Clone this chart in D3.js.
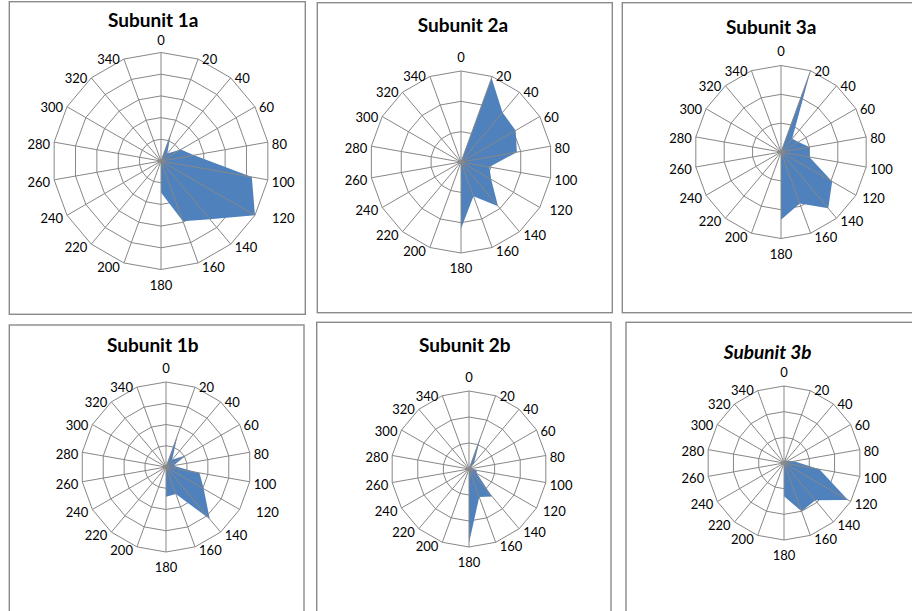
<!DOCTYPE html>
<html><head><meta charset="utf-8">
<script src="https://cdn.jsdelivr.net/npm/d3@7"></script>
<style>body{margin:0;background:#fff;overflow:hidden} svg{display:block}</style>
</head><body>
<svg id="c" width="912" height="611"></svg>
<script>
// ---- data ----
const directions = [0,20,40,60,80,100,120,140,160,180,200,220,240,260,280,300,320,340];
const titles = ["Subunit 1a","Subunit 2a","Subunit 3a","Subunit 1b","Subunit 2b","Subunit 3b"];
const subunit1a = [0,1.3,0.45,1.05,1.55,4.25,5.0,3.5,2.95,1.45,0,0,0,0,0,0,0,0];
const subunit2a = [0,2.95,2.13,2.08,1.87,0.95,1.15,1.9,1.2,2.2,0,0,0,0,0,0,0,0];
const subunit3a = [0,3.0,0.6,0.7,1.0,1.0,2.05,2.55,1.9,2.35,0,0,0,0,0,0,0,0];
const subunit1b = [0,1.6,0.45,1.1,0.35,1.6,2.05,3.2,1.35,1.4,0,0,0,0,0,0,0,0];
const subunit2b = [0,1.3,0.3,0.05,0.1,0.3,0.35,1.38,1.15,2.85,0,0,0,0,0,0,0,0];
const subunit3b = [0,0.3,0.1,0.15,0.4,1.4,2.88,1.9,2.0,1.3,0,0,0,0,0,0,0,0];
const axisMax = [5,3,3,4,3,3];
const series = [subunit1a,subunit2a,subunit3a,subunit1b,subunit2b,subunit3b];

// ---- layout ----
const layout = [
  {box:[9.3,1.7,305.3,314.3],  cx:161, cy:161, R:108.5, tx:153.3, ty:27.4, top0:12.6, italic:false, extra120:13},
  {box:[317.3,2.7,612.3,312.7],cx:461, cy:162, R:91,    tx:463,   ty:32.3, top0:13.5, italic:false, extra120:6},
  {box:[622.3,2.7,1000,312.7], cx:781, cy:152, R:86.5,  tx:771.3, ty:34.3, top0:14.5, italic:false, extra120:2.3},
  {box:[9.3,325,304,1000],     cx:166, cy:467, R:85,    tx:152.7, ty:352.3,top0:14,   italic:false, extra120:12.5},
  {box:[316.7,322.3,611,1000], cx:469, cy:469, R:78,    tx:464.7, ty:352.3,top0:14,   italic:false, extra120:2.5},
  {box:[626,322.3,1000,1000],  cx:784, cy:463, R:77,    tx:767.7, ty:359,  top0:14,   italic:true,  extra120:0}
];
const FILL = "#4F81BD", GRID = "#878787", FONT = "Lato, 'Noto Sans', sans-serif";

const svg = d3.select("#c");
const angle = d3.scaleLinear().domain([0,360]).range([0, 2*Math.PI]);

layout.forEach((L, i) => {
  const g = svg.append("g");
  const [x0,y0,x1,y1] = L.box;
  g.append("rect").attr("x",x0).attr("y",y0).attr("width",x1-x0).attr("height",y1-y0)
    .attr("fill","#fff").attr("stroke","#8a8a8a").attr("stroke-width",1.4);

  g.append("text").attr("x",L.tx).attr("y",L.ty).attr("text-anchor","middle")
    .attr("font-family",FONT).attr("font-weight","bold").attr("font-size",19)
    .attr("font-style", L.italic ? "italic" : "normal").attr("fill","#000")
    .text(titles[i]);

  const r = d3.scaleLinear().domain([0, axisMax[i]]).range([0, L.R]);
  const c = g.append("g").attr("transform",`translate(${L.cx},${L.cy})`);

  // rings
  const ringLine = d3.lineRadial().angle(d => angle(d[0])).radius(d => r(d[1])).curve(d3.curveLinearClosed);
  d3.range(1, axisMax[i]+1).forEach(k => {
    c.append("path").attr("d", ringLine(directions.map(a => [a,k])))
      .attr("fill","none").attr("stroke",GRID).attr("stroke-width",1);
  });

  // data
  const vals = series[i];
  c.append("path").attr("d", ringLine(directions.map((a,j) => [a, vals[j]])))
    .attr("fill",FILL).attr("stroke","none");

  // spokes
  directions.forEach(a => {
    const t = angle(a);
    c.append("line").attr("x1",0).attr("y1",0)
      .attr("x2", r(axisMax[i])*Math.sin(t)).attr("y2", -r(axisMax[i])*Math.cos(t))
      .attr("stroke",GRID).attr("stroke-width",1);
  });

  // labels
  directions.forEach(a => {
    const t = angle(a), s = Math.sin(t), co = Math.cos(t);
    const R = r(axisMax[i]);
    let x, y, anchor;
    if (a === 0) { x = 0; y = -R - L.top0; anchor = "middle"; }
    else if (a === 180) { x = 0; y = R + 15.5; anchor = "middle"; }
    else {
      const gap = 4 + (a === 120 ? L.extra120 : 0);
      x = R*s + (s > 0 ? gap : -gap);
      y = -R*co + 2 - 2*co;
      anchor = s > 0 ? "start" : "end";
    }
    c.append("text").attr("x",x).attr("y",y).attr("dy","0.36em")
      .attr("text-anchor",anchor).attr("font-family",FONT).attr("font-size",13)
      .attr("fill","#000").text(a);
  });
});
</script>
</body></html>
